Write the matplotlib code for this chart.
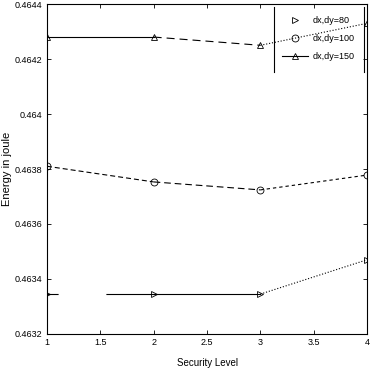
import matplotlib
matplotlib.use("Agg")
import matplotlib.pyplot as plt
from matplotlib.lines import Line2D

plt.rcParams['font.family'] = ['Liberation Sans Narrow', 'Liberation Sans', 'DejaVu Sans']

levels = [1, 2, 3, 4]
e80 = [0.463345, 0.463345, 0.463345, 0.46347]
e100 = [0.46381, 0.463753, 0.463724, 0.463778]
e150 = [0.46428, 0.46428, 0.46425, 0.46433]
labels = ['dx,dy=80', 'dx,dy=100', 'dx,dy=150']
xticks = [1, 1.5, 2, 2.5, 3, 3.5, 4]
xtick_labels = ['1', '1.5', '2', '2.5', '3', '3.5', '4']
yticks = [0.4632, 0.4634, 0.4636, 0.4638, 0.464, 0.4642, 0.4644]
ytick_labels = ['0.4632', '0.4634', '0.4636', '0.4638', '0.464', '0.4642', '0.4644']

lw = 0.8
styles80 = [(0, (10, 43, 300, 1)), '-', ':']
styles100 = [(0, (4.5, 2.7)), (0, (6, 3.5)), (0, (3, 2.7))]
styles150 = ['-', (0, (7.2, 4.5)), ':']

fig = plt.figure(figsize=(3.72, 3.69), dpi=100)
ax = fig.add_axes([0.126, 0.095, 0.861, 0.894])

for vals, styles, mk in [(e80, styles80, '>'), (e100, styles100, 'o'), (e150, styles150, '^')]:
    for i in range(len(levels) - 1):
        ax.plot(levels[i:i + 2], vals[i:i + 2], color='black', lw=lw, ls=styles[i])
    ax.plot(levels, vals, ls='none', marker=mk, mfc='none', mec='black', ms=5, mew=0.6)

ax.set_xlim(1, 4)
ax.set_ylim(0.4632, 0.4644)
ax.set_xticks(xticks)
ax.set_xticklabels(xtick_labels)
ax.set_yticks(yticks)
ax.set_yticklabels(ytick_labels)
ax.tick_params(direction='in', top=True, right=True, length=3, width=0.6, labelsize=6.5, pad=3)
for s in ax.spines.values():
    s.set_linewidth(0.8)
ax.set_xlabel('Security Level', fontsize=7, labelpad=8)
ax.set_ylabel('Energy in joule', fontsize=8, va='center')
ax.yaxis.set_label_coords(-0.125, 0.5)

handles = [
    Line2D([], [], color='black', ls='none', marker='>', mfc='none', mec='black', ms=5, mew=0.6),
    Line2D([], [], color='black', ls='none', marker='o', mfc='none', mec='black', ms=5, mew=0.6),
    Line2D([], [], color='black', ls='-', lw=lw, marker='^', mfc='none', mec='black', ms=5, mew=0.6),
]
leg = ax.legend(handles, labels, loc='upper left', bbox_to_anchor=(0.734, 0.964), fontsize=6.5,
                frameon=False, handlelength=2.9, handletextpad=0.5, labelspacing=1.0,
                borderpad=0, borderaxespad=0)
# vertical frame lines of the legend
ax.plot([0.709, 0.709], [0.794, 0.991], transform=ax.transAxes, color='black', lw=0.8, clip_on=False)
ax.plot([0.991, 0.991], [0.794, 0.991], transform=ax.transAxes, color='black', lw=0.8, clip_on=False)

fig.savefig('out.png', dpi=100)
